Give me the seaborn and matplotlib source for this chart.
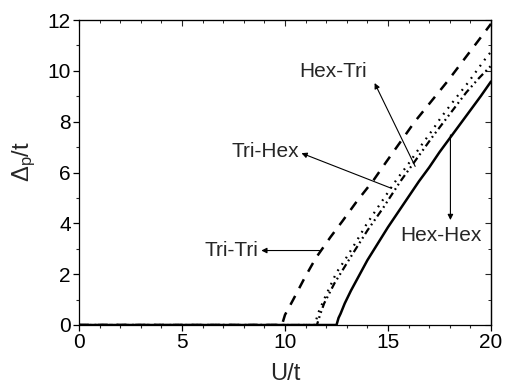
import numpy as np
import pandas as pd
import matplotlib
matplotlib.use("Agg")
import matplotlib.pyplot as plt
import seaborn as sns
from matplotlib.ticker import MultipleLocator

# ---- data ----
tri_tri_x = [0, 9.85, 10.0, 10.4, 10.95, 11.5, 12.2, 12.8, 13.5, 14.3, 14.9, 15.6, 16.3, 17.1, 17.9, 18.6, 19.35, 20]
tri_tri_y = [0, 0, 0.4, 1.0, 1.85, 2.64, 3.45, 4.1, 4.88, 5.7, 6.4, 7.2, 8.0, 8.8, 9.6, 10.35, 11.15, 11.85]

tri_hex_x = [0, 11.45, 11.6, 11.92, 12.49, 12.9, 13.4, 13.94, 14.35, 14.75, 15.4, 16.0, 16.6, 17.2, 17.55, 18.0, 18.45, 18.9, 19.3, 19.75, 20]
tri_hex_y = [0, 0, 0.45, 1.05, 2.05, 2.55, 3.2, 3.94, 4.44, 4.92, 5.7, 6.35, 7.05, 7.72, 8.14, 8.62, 9.09, 9.55, 10.0, 10.5, 10.75]

hex_tri_x = [0, 11.55, 11.7, 11.9, 12.4, 13.3, 14.0, 14.75, 15.6, 16.4, 17.2, 18.0, 18.8, 19.4, 20]
hex_tri_y = [0, 0, 0.4, 0.85, 1.64, 2.82, 3.72, 4.59, 5.65, 6.55, 7.45, 8.3, 9.15, 9.7, 10.2]

hex_hex_x = [0, 12.5, 12.6, 12.7, 12.9, 13.2, 13.5, 14.0, 14.5, 15.0, 15.5, 16.0, 16.5, 17.0, 17.5, 18.0, 18.5, 19.0, 19.5, 20]
hex_hex_y = [0, 0, 0.28, 0.45, 0.85, 1.35, 1.8, 2.55, 3.2, 3.85, 4.45, 5.05, 5.65, 6.2, 6.8, 7.35, 7.9, 8.45, 9.0, 9.58]

labels = ["Hex-Tri", "Tri-Hex", "Tri-Tri", "Hex-Hex"]

x_ticks = [0, 5, 10, 15, 20]
y_ticks = [0, 2, 4, 6, 8, 10, 12]

# ---- styling ----
sns.set_style("ticks")
plt.rcParams["font.family"] = ["Liberation Sans", "DejaVu Sans"]
plt.rcParams["mathtext.fontset"] = "custom"
plt.rcParams["mathtext.rm"] = "Liberation Sans"
plt.rcParams["mathtext.it"] = "Liberation Sans:italic"

fig = plt.figure(figsize=(5.06, 3.90), dpi=100)
ax = fig.add_axes([79 / 506, 1 - 325 / 390, (491 - 79) / 506, (325 - 20) / 390])

series = [
    (tri_tri_x, tri_tri_y, (0, (4, 3.5)), 1.8),
    (tri_hex_x, tri_hex_y, (0, (0.8, 2.6)), 1.6),
    (hex_tri_x, hex_tri_y, (0, (3.2, 1.6, 0.8, 1.6, 0.8, 1.6)), 1.6),
    (hex_hex_x, hex_hex_y, "-", 1.8),
]
for xs, ys, ls, lw in series:
    df = pd.DataFrame({"U": xs, "D": ys})
    sns.lineplot(data=df, x="U", y="D", ax=ax, color="black", sort=False,
                 linestyle=ls, linewidth=lw, estimator=None)

ax.set_xlim(0, 20)
ax.set_ylim(0, 12)
ax.set_xticks(x_ticks)
ax.set_yticks(y_ticks)
ax.xaxis.set_minor_locator(MultipleLocator(1))
ax.yaxis.set_minor_locator(MultipleLocator(1))
ax.tick_params(axis="both", which="major", direction="out", length=4, width=0.9,
               labelsize=15, pad=2, colors="black")
ax.tick_params(axis="both", which="minor", direction="out", length=2.5, width=0.8)
for s in ax.spines.values():
    s.set_linewidth(0.9)
    s.set_color("black")

# mirrored inward ticks on top and right
top = ax.secondary_xaxis("top")
top.set_xticks(x_ticks)
top.xaxis.set_minor_locator(MultipleLocator(1))
top.tick_params(which="major", direction="in", length=4, width=0.8, labeltop=False)
top.tick_params(which="minor", direction="in", length=2.5, width=0.7)
top.spines["top"].set_linewidth(0.8)
right = ax.secondary_yaxis("right")
right.set_yticks(y_ticks)
right.yaxis.set_minor_locator(MultipleLocator(1))
right.tick_params(which="major", direction="in", length=4, width=0.8, labelright=False)
right.tick_params(which="minor", direction="in", length=2.5, width=0.7)
right.spines["right"].set_linewidth(0.9)

ax.set_xlabel("U/t", fontsize=17, labelpad=8)
ax.set_ylabel(r"$\mathrm{\Delta_p}$/t", fontsize=17)
ax.yaxis.set_label_coords(-0.10, 0.535)

# annotations
fs = 15
ax.text(12.31, 9.96, labels[0], fontsize=fs, ha="center", va="center")
ax.text(9.06, 6.82, labels[1], fontsize=fs, ha="center", va="center")
ax.text(7.4, 2.95, labels[2], fontsize=fs, ha="center", va="center")
ax.text(17.58, 3.52, labels[3], fontsize=fs, ha="center", va="center")

arrow = dict(arrowstyle="-|>", color="black", lw=0.8, mutation_scale=8, shrinkA=0, shrinkB=0)
ax.annotate("", xy=(14.35, 9.52), xytext=(16.32, 6.24), arrowprops=arrow)
ax.annotate("", xy=(10.8, 6.76), xytext=(15.16, 5.38), arrowprops=arrow)
ax.annotate("", xy=(8.85, 2.93), xytext=(11.68, 2.93), arrowprops=arrow)
ax.annotate("", xy=(18.03, 4.13), xytext=(18.03, 7.48), arrowprops=arrow)

fig.savefig("out.png", dpi=100)
